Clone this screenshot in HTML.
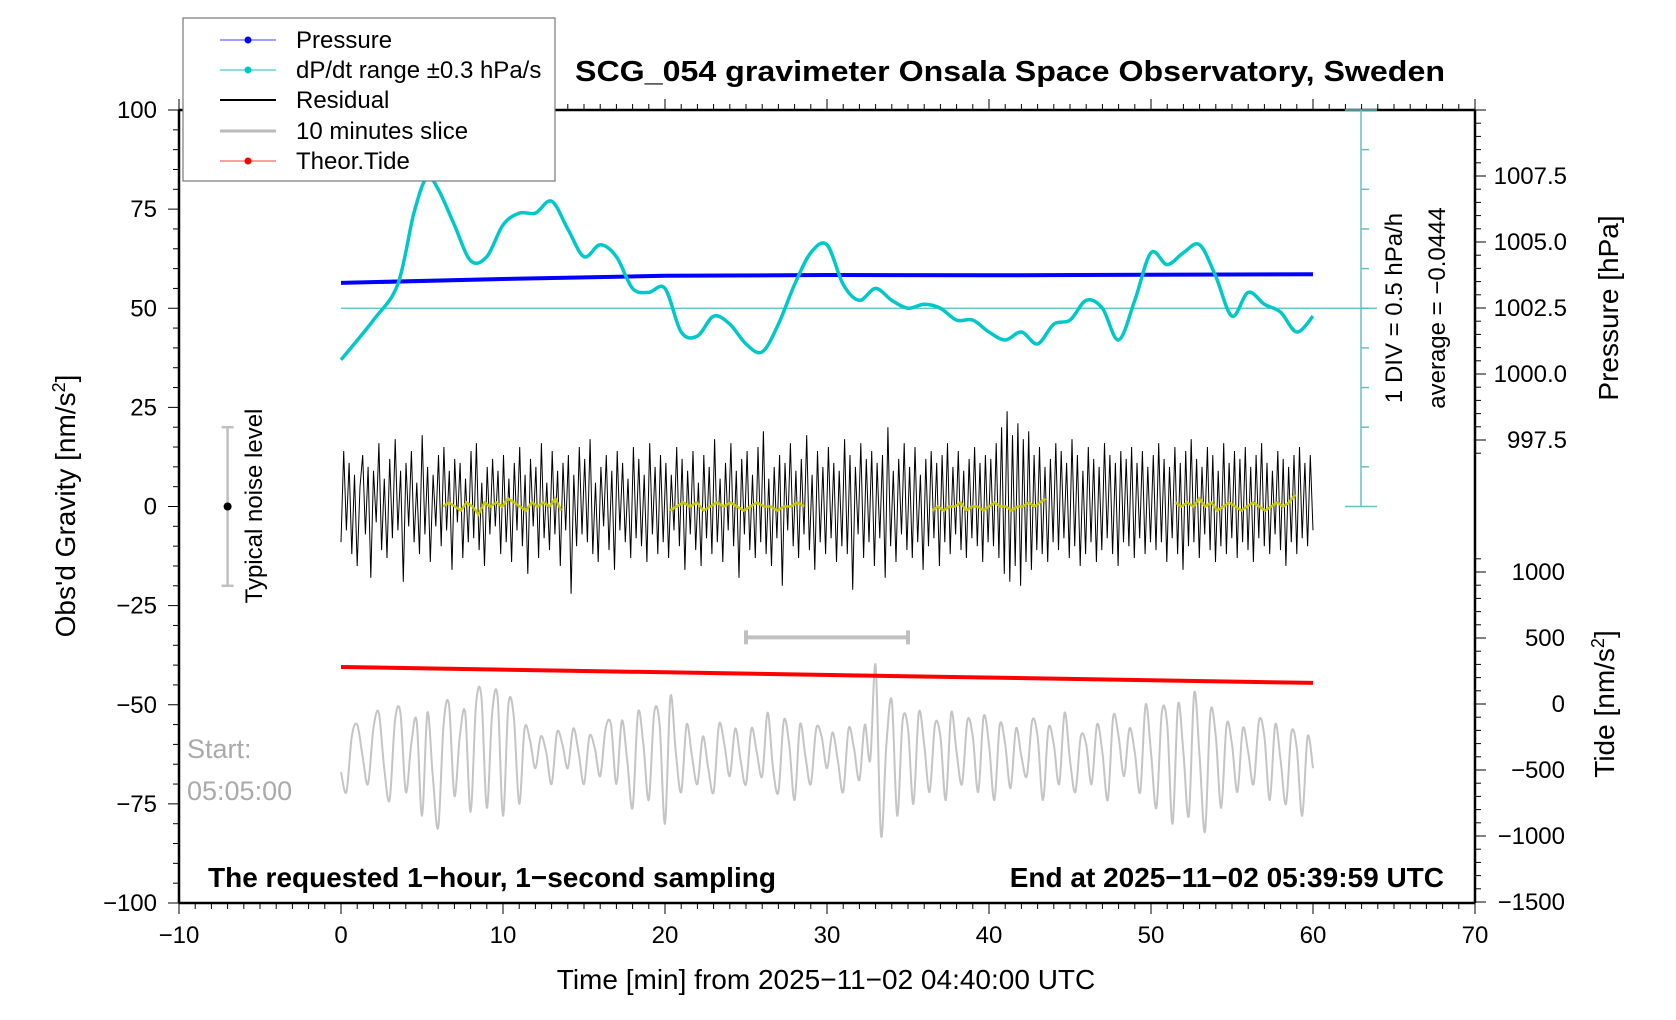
<!DOCTYPE html>
<html><head><meta charset="utf-8"><style>
html,body{margin:0;padding:0;background:#fff}
svg{display:block;font-family:"Liberation Sans",sans-serif}
</style></head><body>
<svg id="chart" width="1676" height="1020" viewBox="0 0 1676 1020" xmlns="http://www.w3.org/2000/svg">
<text x="1010" y="81" font-size="29" font-weight="bold" text-anchor="middle" textLength="870" lengthAdjust="spacingAndGlyphs">SCG_054 gravimeter Onsala Space Observatory, Sweden</text>
<g id="plot"></g>
<text transform="translate(75,506) rotate(-90)" font-size="28" text-anchor="middle">Obs'd Gravity [nm/s<tspan dy="-10" font-size="18">2</tspan><tspan dy="10">]</tspan></text>
<text transform="translate(1618,308) rotate(-90)" font-size="28" text-anchor="middle">Pressure [hPa]</text>
<text transform="translate(1614,704) rotate(-90)" font-size="28" text-anchor="middle">Tide [nm/s<tspan dy="-10" font-size="18">2</tspan><tspan dy="10">]</tspan></text>
<text transform="translate(1402,308) rotate(-90)" font-size="24" text-anchor="middle">1 DIV = 0.5 hPa/h</text>
<text transform="translate(1445,308) rotate(-90)" font-size="24" text-anchor="middle">average = −0.0444</text>
<text x="826" y="989" font-size="28" text-anchor="middle">Time [min] from 2025−11−02 04:40:00 UTC</text>
<text x="208" y="887" font-size="28" font-weight="bold">The requested 1−hour, 1−second sampling</text>
<text x="1444" y="887" font-size="28" font-weight="bold" text-anchor="end">End at 2025−11−02 05:39:59 UTC</text>
<text x="187" y="758" font-size="27" fill="#aaaaaa">Start:</text>
<text x="187" y="800" font-size="27" fill="#aaaaaa">05:05:00</text>
<text transform="translate(262,506) rotate(-90)" font-size="24" text-anchor="middle">Typical noise level</text>
<g>
<rect x="183" y="18" width="372" height="163" fill="#fff" stroke="#777" stroke-width="1.2"/>
<g><line x1="220" y1="40" x2="276" y2="40" stroke="#6666ff" stroke-width="1.2"/><circle cx="248" cy="40" r="3.5" fill="#0000ff"/><text x="296" y="48" font-size="24">Pressure</text></g>
<g><line x1="220" y1="70" x2="276" y2="70" stroke="#44cccc" stroke-width="1.2"/><circle cx="248" cy="70" r="3.5" fill="#00c8c8"/><text x="296" y="78" font-size="24">dP/dt range ±0.3 hPa/s</text></g>
<g><line x1="220" y1="100" x2="276" y2="100" stroke="#000" stroke-width="2"/><text x="296" y="108" font-size="24">Residual</text></g>
<g><line x1="220" y1="131" x2="276" y2="131" stroke="#bbb" stroke-width="3"/><text x="296" y="139" font-size="24">10 minutes slice</text></g>
<g><line x1="220" y1="161" x2="276" y2="161" stroke="#ff6666" stroke-width="1.2"/><circle cx="248" cy="161" r="3.5" fill="#ff0000"/><text x="296" y="169" font-size="24">Theor.Tide</text></g>
</g>
</svg>
<script>
// ---- data ----
const xTicks = [-10,0,10,20,30,40,50,60,70];
const yTicks = [100,75,50,25,0,-25,-50,-75,-100];
const pressureTicks = [997.5,1000.0,1002.5,1005.0,1007.5];
const tideTicks = [1000,500,0,-500,-1000,-1500];
const dpdtTimes = [0,2,3.5,4.5,5.3,6,7,8,9,10,11,12,13,14,15,16,17,18,19,20,21,22,23,24,25,26,27,28,29,30,31,32,33,34,35,36,37,38,39,40,41,42,43,44,45,46,47,48,49,50,51,52,53,54,55,56,57,58,59,60];
const dpdtValues = [37,47,56,74,83,80,71,62,63,71,74,74,77,70,63,66,63,55,54,55,44,43,48,46,41,39,46,56,64,66,56,52,55,52,50,51,50,47,47,44,42,44,41,46,47,52,50,42,52,64,61,64,66,58,48,54,51,49,44,48];
const pressureTimes = [0,10,20,30,40,50,60];
const pressureValues = [1003.45,1003.6,1003.72,1003.75,1003.74,1003.76,1003.78];
const tideTimes = [0,60];
const tideValues = [280,160];
const residual = [-9,14,-6,11,-12,8,-15,5,13,-7,10,-18,9,-4,16,-11,7,-13,12,-8,17,-6,9,-19,11,-5,14,-9,6,-12,18,-7,10,-14,8,-5,13,-10,15,-6,9,-16,12,-4,11,-13,7,-9,14,-8,16,-11,6,-15,10,-7,12,-5,9,-12,
13,-9,7,-14,11,-6,15,-10,8,-17,12,-5,10,-13,16,-8,6,-11,14,-7,9,-15,11,-6,13,-22,8,-10,15,-7,12,-9,17,-12,6,-14,10,-5,13,-11,9,-16,14,-6,11,-9,7,-13,15,-8,12,-10,8,-14,16,-7,10,-12,13,-9,
11,-13,8,-6,15,-10,12,-16,9,-7,14,-11,6,-15,13,-8,10,-12,17,-9,7,-14,11,-6,16,-10,9,-18,12,-7,14,-11,8,-13,15,-9,19,-12,7,-15,10,-8,13,-20,11,-6,16,-10,9,-13,12,-7,18,-11,8,-16,14,-9,10,-12,
15,-8,11,-14,9,-10,17,-12,13,-21,10,-7,16,-13,12,-9,14,-15,11,-8,13,-18,20,-10,9,-14,12,-7,16,-11,10,-13,15,-9,8,-16,12,-10,14,-8,11,-15,13,-9,16,-12,10,-7,14,-11,9,-13,12,-8,15,-10,11,-14,13,-9,
12,-10,16,-13,20,-17,24,-19,18,-15,21,-20,17,-14,19,-16,13,-11,15,-12,10,-14,12,-9,16,-11,14,-8,11,-13,17,-10,13,-15,9,-12,15,-9,12,-14,10,-11,16,-8,13,-12,11,-15,14,-9,12,-10,15,-13,11,-8,14,-12,10,-9,
13,-11,16,-9,12,-14,10,-8,15,-12,11,-16,14,-10,17,-9,12,-13,10,-7,15,-11,13,-14,9,-10,16,-12,11,-8,14,-13,12,-9,15,-11,10,-14,13,-8,16,-10,11,-12,9,-7,14,-11,12,-15,10,-9,13,-12,15,-8,11,-10,13,-6];
const smoothStarts = [6.3,20.3,36.5,51.5];
const smoothEnds = [13.6,28.6,43.5,58.9];
const smooth1 = [0,1,0,-1,1,0,-2,1,0,1,0,2,1,0,-1,1,0,1,0,2,-1];
const smooth2 = [-1,0,1,0,1,-1,0,1,0,1,0,-1,0,1,0,0,-1,0,0,1,0];
const smooth3 = [-1,0,-1,0,0,1,-1,0,0,-1,0,1,0,0,-1,0,0,1,0,1,2];
const smooth4 = [1,0,1,0,2,0,1,-1,0,1,0,-1,0,1,0,-1,0,1,0,1,3];
const slice = [-67,-72,-58,-55,-63,-70,-56,-52,-66,-74,-54,-52,-72,-60,-54,-78,-52,-68,-81,-55,-50,-73,-58,-52,-77,-50,-48,-76,-52,-48,-78,-50,-53,-75,-56,-59,-66,-58,-62,-70,-57,-60,-66,-56,-62,-70,-58,-61,-68,-56,-55,-70,-54,-64,-76,-52,-60,-74,-52,-55,-80,-48,-62,-72,-55,-63,-70,-58,-66,-72,-55,-60,-68,-56,-64,-70,-56,-62,-68,-52,-66,-72,-54,-60,-74,-55,-63,-70,-56,-58,-66,-57,-64,-72,-56,-61,-69,-55,-64,-40,-83,-60,-49,-78,-54,-56,-75,-52,-60,-72,-55,-58,-74,-52,-62,-70,-54,-58,-72,-53,-60,-74,-55,-60,-71,-56,-63,-68,-54,-58,-74,-56,-60,-70,-52,-64,-72,-58,-60,-70,-55,-62,-74,-53,-58,-68,-56,-62,-72,-50,-62,-76,-52,-55,-80,-50,-62,-78,-47,-63,-82,-52,-58,-76,-55,-60,-72,-56,-62,-70,-54,-58,-74,-55,-64,-75,-57,-61,-78,-58,-66];
// ---- scales ----
const X0=179, X1=1475, Y0=110, Y1=903;
const xs = t => X0 + (t+10)/80*(X1-X0);
const ys = g => Y0 + (100-g)/200*(Y1-Y0);
const yp = p => 308 - (p-1002.5)*(66/2.5);
const yt = v => 704 - v*(66/500);
const NS="http://www.w3.org/2000/svg";
const plot=document.getElementById('plot');
function mk(tag,attrs,parent){const e=document.createElementNS(NS,tag);for(const k in attrs)e.setAttribute(k,attrs[k]);(parent||plot).appendChild(e);return e;}
function pathFrom(ts,vs,f){return ts.map((t,i)=>(i?'L':'M')+xs(t).toFixed(1)+' '+f(vs[i]).toFixed(1)).join(' ');}
function lin(n,a,b){const r=[];for(let i=0;i<n;i++)r.push(a+(b-a)*i/(n-1));return r;}
function smoothPath(ts,vs,f){const p=ts.map((t,i)=>[xs(t),f(vs[i])]);let d='M'+p[0][0]+' '+p[0][1];for(let i=0;i<p.length-1;i++){const p0=p[Math.max(0,i-1)],p1=p[i],p2=p[i+1],p3=p[Math.min(p.length-1,i+2)];d+=` C${p1[0]+(p2[0]-p0[0])/6} ${p1[1]+(p2[1]-p0[1])/6} ${p2[0]-(p3[0]-p1[0])/6} ${p2[1]-(p3[1]-p1[1])/6} ${p2[0]} ${p2[1]}`;}return d;}

const axes=mk('g',{});


mk('line',{x1:X0,y1:Y0,x2:X1,y2:Y0,stroke:'#000','stroke-width':2.5},axes);
mk('line',{x1:X0,y1:Y1,x2:X1,y2:Y1,stroke:'#000','stroke-width':2.5},axes);
mk('line',{x1:X0,y1:Y0,x2:X0,y2:Y1,stroke:'#000','stroke-width':2.5},axes);
mk('line',{x1:X1,y1:Y0,x2:X1,y2:Y1,stroke:'#000','stroke-width':2.5},axes);
for(let t=-10;t<=70;t++){const maj=t%10===0;const L=maj?11:6;
 mk('line',{x1:xs(t),y1:Y1,x2:xs(t),y2:Y1+L,stroke:'#000','stroke-width':1},axes);
 mk('line',{x1:xs(t),y1:Y0,x2:xs(t),y2:Y0-L,stroke:'#000','stroke-width':1},axes);}
for(let g=-100;g<=100;g+=5){const maj=g%25===0;mk('line',{x1:X0,y1:ys(g),x2:X0-(maj?11:6),y2:ys(g),stroke:'#000','stroke-width':1},axes);}
for(let p=997;p<=1010;p+=0.5){const y=yp(p);if(y<Y0||y>yp(996.5))continue;const maj=Math.abs((p*2)%5)<1e-6;mk('line',{x1:X1,y1:y,x2:X1+(maj?11:6),y2:y,stroke:'#000','stroke-width':1},axes);}
for(let v=-1500;v<=1100;v+=100){const y=yt(v);if(y>Y1||y<yt(1200))continue;const maj=v%500===0;mk('line',{x1:X1,y1:y,x2:X1+(maj?11:6),y2:y,stroke:'#000','stroke-width':1},axes);}
xTicks.forEach(t=>{const e=mk('text',{x:xs(t),y:943,'font-size':24,'text-anchor':'middle'});e.textContent=String(t).replace('-','−');

});
yTicks.forEach(g=>{const e=mk('text',{x:157,y:ys(g)+8,'font-size':24,'text-anchor':'end'});e.textContent=String(g).replace('-','−');

});
pressureTicks.forEach(p=>{const e=mk('text',{x:1567,y:yp(p)+8,'font-size':24,'text-anchor':'end'});e.textContent=p.toFixed(1);

});
tideTicks.forEach(v=>{const e=mk('text',{x:1565,y:yt(v)+8,'font-size':24,'text-anchor':'end'});e.textContent=String(v).replace('-','−');

});

const dx=1361;
const dax=mk('g',{});


mk('line',{x1:dx,y1:Y0,x2:dx,y2:ys(0),stroke:'#66c0c0','stroke-width':1.5},dax);
mk('line',{x1:dx-16,y1:ys(0),x2:dx+16,y2:ys(0),stroke:'#66c0c0','stroke-width':1.5},dax);
mk('line',{x1:dx-16,y1:Y0,x2:dx+16,y2:Y0,stroke:'#66c0c0','stroke-width':1.5},dax);
for(let g=10;g<100;g+=10)mk('line',{x1:dx,y1:ys(g),x2:dx+8,y2:ys(g),stroke:'#66c0c0','stroke-width':1.5},dax);
const ref=mk('line',{x1:xs(0),y1:ys(50),x2:dx+16,y2:ys(50),stroke:'#55bbbb','stroke-width':1.3});



const nl=mk('g',{});


const nx=xs(-7);
mk('line',{x1:nx,y1:ys(20),x2:nx,y2:ys(-20),stroke:'#c0c0c0','stroke-width':2.5},nl);
mk('line',{x1:nx-6,y1:ys(20),x2:nx+6,y2:ys(20),stroke:'#c0c0c0','stroke-width':2.5},nl);
mk('line',{x1:nx-6,y1:ys(-20),x2:nx+6,y2:ys(-20),stroke:'#c0c0c0','stroke-width':2.5},nl);
mk('circle',{cx:nx,cy:ys(0),r:4,fill:'#000'},nl);

const sb=mk('g',{});


mk('line',{x1:xs(25),y1:ys(-33),x2:xs(35),y2:ys(-33),stroke:'#c0c0c0','stroke-width':4},sb);
mk('line',{x1:xs(25),y1:ys(-33)-7,x2:xs(25),y2:ys(-33)+7,stroke:'#c0c0c0','stroke-width':4},sb);
mk('line',{x1:xs(35),y1:ys(-33)-7,x2:xs(35),y2:ys(-33)+7,stroke:'#c0c0c0','stroke-width':4},sb);

const sl=mk('path',{d:smoothPath(lin(slice.length,0,60),slice,ys),fill:'none',stroke:'#c4c4c4','stroke-width':2});



const td=mk('path',{d:pathFrom(tideTimes,tideValues,yt),fill:'none',stroke:'#ff0000','stroke-width':4});



const rs=mk('path',{d:pathFrom(lin(residual.length,0,60),residual,ys),fill:'none',stroke:'#000','stroke-width':1});


[smooth1,smooth2,smooth3,smooth4].forEach((s,i)=>{
 const p=mk('path',{d:pathFrom(lin(s.length,smoothStarts[i],smoothEnds[i]),s,ys),fill:'none',stroke:'#c8c800','stroke-width':2.5});
 
 
});

const pr=mk('path',{d:pathFrom(pressureTimes,pressureValues,yp),fill:'none',stroke:'#0000ff','stroke-width':4});



const dp=mk('path',{d:smoothPath(dpdtTimes,dpdtValues,ys),fill:'none',stroke:'#00c8c8','stroke-width':3.5});


</script>
</body></html>
